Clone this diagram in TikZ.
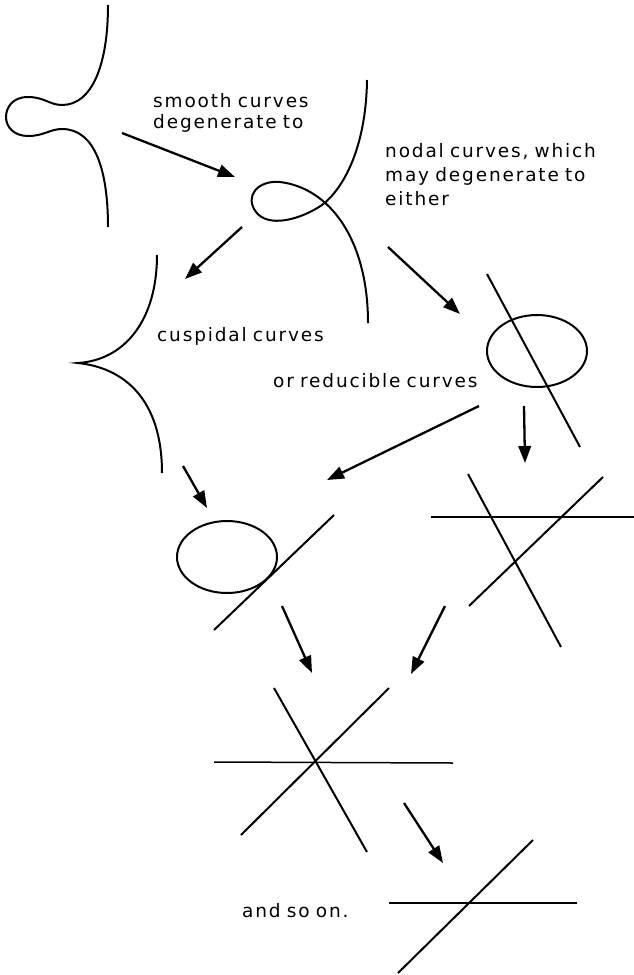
\documentclass[tikz,border=0pt]{standalone}
\usepackage{fontspec}
\setmainfont{DejaVu Sans}[LetterSpace=10]
\usetikzlibrary{arrows.meta}
\begin{document}
\begin{tikzpicture}[x=1pt,y=-1pt,
  curve/.style={line width=2pt},
  thinline/.style={line width=1.5pt},
  arr/.style={line width=2.3pt,-{Triangle[length=17pt,width=12.5pt]}},
  lbl/.style={font=\fontsize{18.5}{21}\selectfont, inner sep=0pt, anchor=base west, align=left, text width=280pt}
]
\useasboundingbox (0,0) rectangle (634,975);

% smooth curve
\draw[curve] (108,5) .. controls (108,65) and (92,105) .. (62,105)
  .. controls (50,105) and (44,97) .. (28,97)
  .. controls (12,97) and (6,108) .. (6,117)
  .. controls (6,127) and (14,136) .. (28,136)
  .. controls (44,136) and (50,129) .. (62,129)
  .. controls (95,129) and (108,170) .. (108,227);

% nodal curve
\draw[curve] (367,80) .. controls (366,150) and (342,190) .. (322,205)
  .. controls (300,220) and (268,228) .. (256,212)
  .. controls (244,196) and (258,180) .. (280,182)
  .. controls (330,188) and (368,240) .. (368,323);

% cuspidal curve
\draw[curve] (157,255) .. controls (157,320) and (125,360) .. (78,363)
  .. controls (125,368) and (162,400) .. (162,473);

% reducible: conic and line
\draw[curve] (537,351) ellipse [x radius=50, y radius=36];
\draw[curve] (487,274) -- (580,447);

% triangle of lines
\draw[thinline] (431,517) -- (634,517);
\draw[curve] (468,474) -- (561,647);
\draw[curve] (603,477) -- (469,606);

% conic with tangent line
\draw[curve] (227,557) ellipse [x radius=50, y radius=36];
\draw[curve] (334,515) -- (214,630);

% three concurrent lines
\draw[thinline] (214,762) -- (453,763);
\draw[curve] (274,688) -- (367,852);
\draw[curve] (389,688) -- (241,835);

% double line
\draw[line width=2.8pt] (389,903) -- (577,903);
\draw[curve] (533,840) -- (398,973);

% labels
\node[lbl] (t1) at (153,107) {smooth curves\\degenerate to};
\node[lbl, font=\fontsize{18.5}{24}\selectfont] (t2) at (385,157) {nodal curves, which\\may degenerate to\\either};
\node[lbl] (t3) at (157,341) {cuspidal curves};
\node[lbl] (t4) at (273,387) {or reducible curves};
\node[lbl] (t5) at (242,917) {and so on.};

% arrows
\coordinate (a1s) at (122,133); \coordinate (a1e) at (235,177);
\coordinate (a2s) at (242,227); \coordinate (a2e) at (185,279);
\coordinate (a3s) at (388,247); \coordinate (a3e) at (460,314);
\coordinate (a4s) at (479,406); \coordinate (a4e) at (327,480);
\coordinate (a5s) at (524,406); \coordinate (a5e) at (525,463);
\coordinate (a6s) at (183,466); \coordinate (a6e) at (207,508);
\coordinate (a7s) at (282,606); \coordinate (a7e) at (312,673);
\coordinate (a8s) at (445,606); \coordinate (a8e) at (411,674);
\coordinate (a9s) at (404,803); \coordinate (a9e) at (443,863);
\foreach \i in {1,...,9} \draw[arr] (a\i s) -- (a\i e);
\end{tikzpicture}
\end{document}
